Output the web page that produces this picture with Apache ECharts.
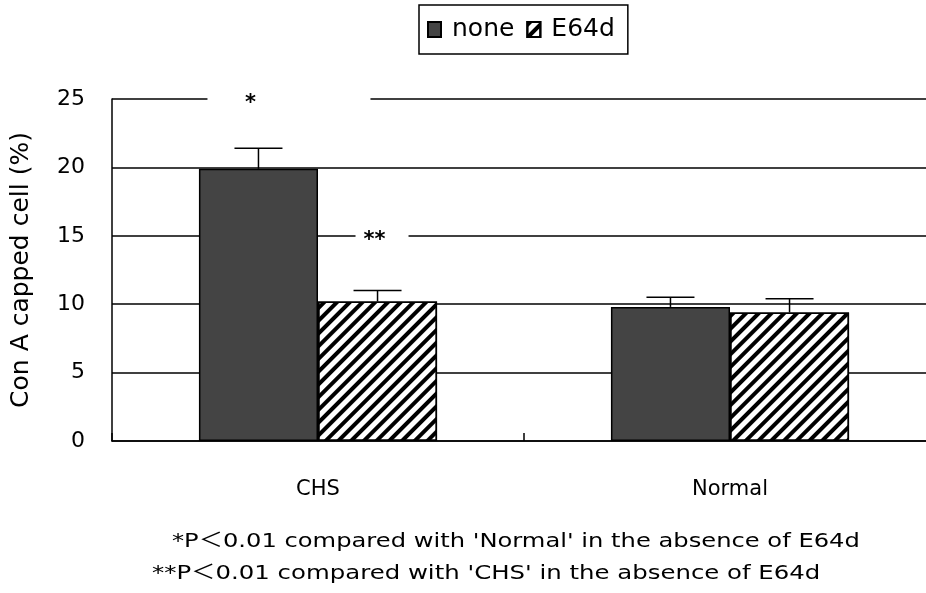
<!DOCTYPE html>
<html>
<head>
<meta charset="utf-8">
<script src="https://cdn.jsdelivr.net/npm/echarts@6/dist/echarts.min.js"></script>
<style>html,body{margin:0;padding:0;background:#fff;overflow:hidden;}#chart{width:926px;height:593px;}</style>
</head>
<body>
<div id="chart"></div>
<script>
// ---- data ----
const categories = ['CHS', 'Normal'];
const seriesNames = ['none', 'E64d'];
const noneValues = [19.9, 9.8];
const e64dValues = [10.2, 9.4];
const noneErrors = [1.5, 0.7];
const e64dErrors = [0.8, 1.0];
const yTickMin = 0, yTickMax = 25, yTickStep = 5;
const footnotes = [
  "*P\uFF1C0.01 compared with 'Normal' in the absence of E64d",
  "**P\uFF1C0.01 compared with 'CHS' in the absence of E64d"
];
// significance marks: category, series index, mark text, y level
const sigMarks = [
  { category: 'CHS', series: 0, text: '*', level: 25 },
  { category: 'CHS', series: 1, text: '**', level: 15 }
];

// ---- style ----
const FONT = "'DejaVu Sans', 'Noto Sans CJK JP', sans-serif";
const BAR_FRAC = 0.289;           // bar width as fraction of category band
const OFF = BAR_FRAC / 2;         // center offset of each bar
const CAP = 24;                   // half-width of error cap
// layout of the blank box behind each mark [dx of text, left gap, right gap]
const markBoxes = [[-8, -51, 112], [-3, -22, 31]];

const chart = echarts.init(document.getElementById('chart'), null, { renderer: 'canvas' });

function errSeries(vals, errs, sIdx) {
  const sign = sIdx === 0 ? -1 : 1;
  return {
    type: 'custom',
    name: seriesNames[sIdx] + '-err',
    z: 5,
    silent: true,
    encode: { x: 0, y: 1 },
    data: vals.map((v, i) => [i, v, errs[i]]),
    renderItem: function (params, api) {
      const c = api.value(0), v = api.value(1), e = api.value(2);
      const band = api.size([1, 0])[0];
      const p0 = api.coord([c, v]);
      const p1 = api.coord([c, v + e]);
      const x = p0[0] + sign * OFF * band;
      const st = { stroke: '#000', lineWidth: 1.5 };
      return {
        type: 'group',
        children: [
          { type: 'line', shape: { x1: x, y1: p0[1], x2: x, y2: p1[1] }, style: st },
          { type: 'line', shape: { x1: x - CAP, y1: p1[1], x2: x + CAP, y2: p1[1] }, style: st }
        ]
      };
    }
  };
}

const markSeries = {
  type: 'custom',
  name: 'marks',
  z: 6,
  silent: true,
  encode: { x: 0, y: 1 },
  data: sigMarks.map(m => [categories.indexOf(m.category), m.level, m.series]),
  renderItem: function (params, api) {
    const i = params.dataIndex;
    const m = sigMarks[i];
    const box = markBoxes[i];
    const band = api.size([1, 0])[0];
    const p = api.coord([api.value(0), api.value(1)]);
    const cx = p[0] + (api.value(2) === 0 ? -1 : 1) * OFF * band;
    return {
      type: 'group',
      children: [
        { type: 'rect', shape: { x: cx + box[1], y: p[1] - 6, width: box[2] - box[1], height: 12 }, style: { fill: '#fff' } },
        { type: 'text', style: { text: m.text, x: cx + box[0], y: p[1] + 5, align: 'center', verticalAlign: 'middle', fill: '#000', font: 'bold 21px ' + FONT } }
      ]
    };
  }
};

const decalHatch = {
  symbol: 'rect',
  symbolSize: 1,
  color: '#000',
  dashArrayX: [1, 0],
  dashArrayY: [4, 4.5],
  rotation: -Math.PI / 4
};

const option = {
  backgroundColor: '#fff',
  animation: false,
  textStyle: { fontFamily: FONT, color: '#000' },
  legend: {
    data: seriesNames,
    left: 419,
    top: 5,
    orient: 'horizontal',
    icon: 'rect',
    itemWidth: 13,
    itemHeight: 15,
    itemGap: 12,
    padding: [12, 13, 12, 8],
    borderColor: '#000',
    borderWidth: 1.5,
    selectedMode: false,
    textStyle: { fontFamily: FONT, fontSize: 25, color: '#000', padding: [0, 0, 0, 6] }
  },
  grid: { left: 112, width: 824, top: 99, bottom: 152, containLabel: false, outerBoundsMode: 'none' },
  xAxis: {
    type: 'category',
    data: categories,
    boundaryGap: true,
    axisLine: { lineStyle: { color: '#000', width: 1.5 } },
    axisTick: { show: true, inside: true, length: 8, lineStyle: { color: '#000', width: 1.5 } },
    axisLabel: { fontFamily: FONT, fontSize: 21, color: '#000', margin: 38 },
    splitLine: { show: false }
  },
  yAxis: {
    type: 'value',
    min: yTickMin,
    max: yTickMax,
    interval: yTickStep,
    name: 'Con A capped cell (%)',
    nameLocation: 'middle',
    nameGap: 78,
    nameTextStyle: { fontFamily: FONT, fontSize: 25, color: '#000' },
    axisLine: { show: true, lineStyle: { color: '#000', width: 1.5 } },
    axisTick: { show: false },
    axisLabel: { fontFamily: FONT, fontSize: 22, color: '#000', margin: 27 },
    splitLine: { show: true, lineStyle: { color: '#000', width: 1.5 } }
  },
  series: [
    {
      type: 'bar',
      name: seriesNames[0],
      data: noneValues,
      barWidth: (BAR_FRAC * 100) + '%',
      barGap: '0%',
      z: 3,
      itemStyle: { color: '#444444', borderColor: '#000', borderWidth: 1.5 }
    },
    {
      type: 'bar',
      name: seriesNames[1],
      data: e64dValues,
      barWidth: (BAR_FRAC * 100) + '%',
      barGap: '0%',
      z: 3,
      itemStyle: { color: '#fff', borderColor: '#000', borderWidth: 1.5, decal: decalHatch }
    },
    errSeries(noneValues, noneErrors, 0),
    errSeries(e64dValues, e64dErrors, 1),
    markSeries
  ],
  graphic: [
    { type: 'text', x: 172, y: 532, scaleX: 1.21, style: { text: footnotes[0], font: '20px ' + FONT, fill: '#000' } },
    { type: 'text', x: 152, y: 564, scaleX: 1.22, style: { text: footnotes[1], font: '20px ' + FONT, fill: '#000' } }
  ]
};
chart.setOption(option);
</script>
</body>
</html>
